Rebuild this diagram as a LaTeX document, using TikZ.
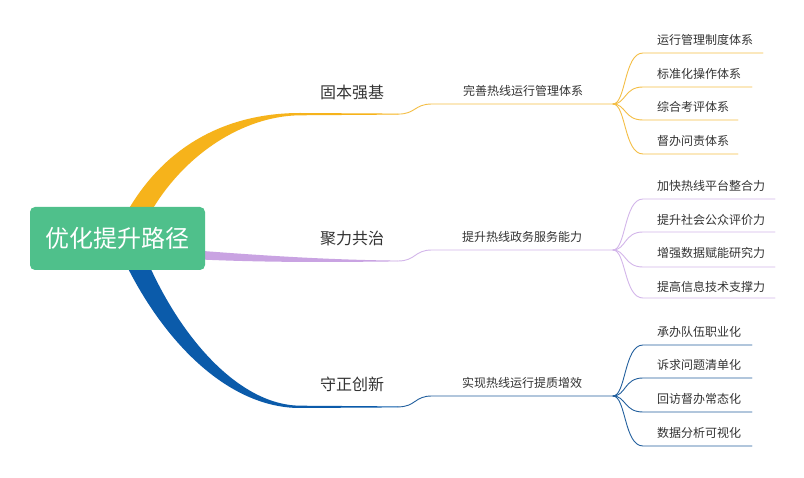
\documentclass[tikz,border=0pt]{standalone}
\usepackage{fontspec}
\setmainfont{Noto Sans CJK SC}
\definecolor{cyel}{HTML}{F6B31B}
\definecolor{cyelt}{HTML}{F4BE45}
\definecolor{cpur}{HTML}{C9A3E2}
\definecolor{cpurt}{HTML}{D3B6EA}
\definecolor{cblu}{HTML}{0B5BAA}
\definecolor{cblut}{HTML}{23609E}
\definecolor{cgrn}{HTML}{4FC08B}
\definecolor{ctxt}{HTML}{333333}
\begin{document}
\begin{tikzpicture}[x=1pt,y=-1pt,
  rootbox/.style={fill=cgrn,rounded corners=5pt,minimum width=175pt,minimum height=63pt,inner sep=0pt,text=white,font=\fontsize{24}{28}\selectfont},
  mainlbl/.style={text=ctxt,font=\fontsize{16}{18}\selectfont,inner sep=0pt},
  sublbl/.style={text=ctxt,font=\fontsize{12}{14}\selectfont,inner sep=0pt},
  leaflbl/.style={text=ctxt,font=\fontsize{12}{14}\selectfont,inner sep=0pt,anchor=west},
  thinline/.style={line width=0.9pt,line cap=round}]
\useasboundingbox[fill=white] (0,0) rectangle (804,478);

% tapered main branches
\fill[cyel] (114,238) .. controls (152,150) and (222,113) .. (300,113)
  -- (398,113.6) -- (398,114.6) -- (300,115.3) .. controls (236,116) and (168,165) .. (138,238) -- cycle;
\fill[cpur] (190,250) .. controls (280,257) and (340,260) .. (398,260.6)
  -- (398,261.4) .. controls (340,262) and (270,263) .. (190,259) -- cycle;
\fill[cblu] (114,238) .. controls (152,330) and (222,408) .. (300,408)
  -- (398,407.4) -- (398,406.4) -- (300,405.7) .. controls (236,405) and (172,330) .. (138,238) -- cycle;

% root
\node[rootbox] (root) at (117.5,238.5) {优化提升路径};

% main labels
\node[mainlbl] (m1) at (352,92) {固本强基};
\node[mainlbl] (m2) at (352,238) {聚力共治};
\node[mainlbl] (m3) at (352,384) {守正创新};

% sub labels
\node[sublbl] (s1) at (523,91) {完善热线运行管理体系};
\node[sublbl] (s2) at (522,237) {提升热线政务服务能力};
\node[sublbl] (s3) at (522,383) {实现热线运行提质增效};

% connectors main -> sub
\coordinate (a1) at (398,114.1); \coordinate (b1) at (432,104); \coordinate (f1) at (613,104);
\coordinate (a2) at (398,261);   \coordinate (b2) at (432,250); \coordinate (f2) at (613,250);
\coordinate (a3) at (398,406.9); \coordinate (b3) at (432,396); \coordinate (f3) at (613,396);
\draw[thinline,cyelt] (a1) .. controls (416,114.1) and (414,104) .. (b1) -- (f1);
\draw[thinline,cpurt] (a2) .. controls (416,261) and (414,250) .. (b2) -- (f2);
\draw[thinline,cblut] (a3) .. controls (416,406.9) and (414,396) .. (b3) -- (f3);

% leaves branch 1
\node[leaflbl] (l11) at (657,40) {运行管理制度体系};
\node[leaflbl] (l12) at (657,74) {标准化操作体系};
\node[leaflbl] (l13) at (657,107) {综合考评体系};
\node[leaflbl] (l14) at (657,141) {督办问责体系};
\foreach \yy/\xe [count=\i] in {53/763,87/752,120/738,154/738}{
  \coordinate (c1\i) at (643,\yy); \coordinate (e1\i) at (\xe,\yy);
  \draw[thinline,cyelt] (f1) .. controls (626,104) and (624,\yy) .. (c1\i) -- (e1\i);
}

% leaves branch 2
\node[leaflbl] (l21) at (657,186) {加快热线平台整合力};
\node[leaflbl] (l22) at (657,220) {提升社会公众评价力};
\node[leaflbl] (l23) at (657,253) {增强数据赋能研究力};
\node[leaflbl] (l24) at (657,287) {提高信息技术支撑力};
\foreach \yy [count=\i] in {199,232,267,298}{
  \coordinate (c2\i) at (643,\yy); \coordinate (e2\i) at (775,\yy);
  \draw[thinline,cpurt] (f2) .. controls (626,250) and (624,\yy) .. (c2\i) -- (e2\i);
}

% leaves branch 3
\node[leaflbl] (l31) at (657,332) {承办队伍职业化};
\node[leaflbl] (l32) at (657,365) {诉求问题清单化};
\node[leaflbl] (l33) at (657,399) {回访督办常态化};
\node[leaflbl] (l34) at (657,433) {数据分析可视化};
\foreach \yy [count=\i] in {345,378,412,446}{
  \coordinate (c3\i) at (643,\yy); \coordinate (e3\i) at (752,\yy);
  \draw[thinline,cblut] (f3) .. controls (626,396) and (624,\yy) .. (c3\i) -- (e3\i);
}
\end{tikzpicture}
\end{document}
